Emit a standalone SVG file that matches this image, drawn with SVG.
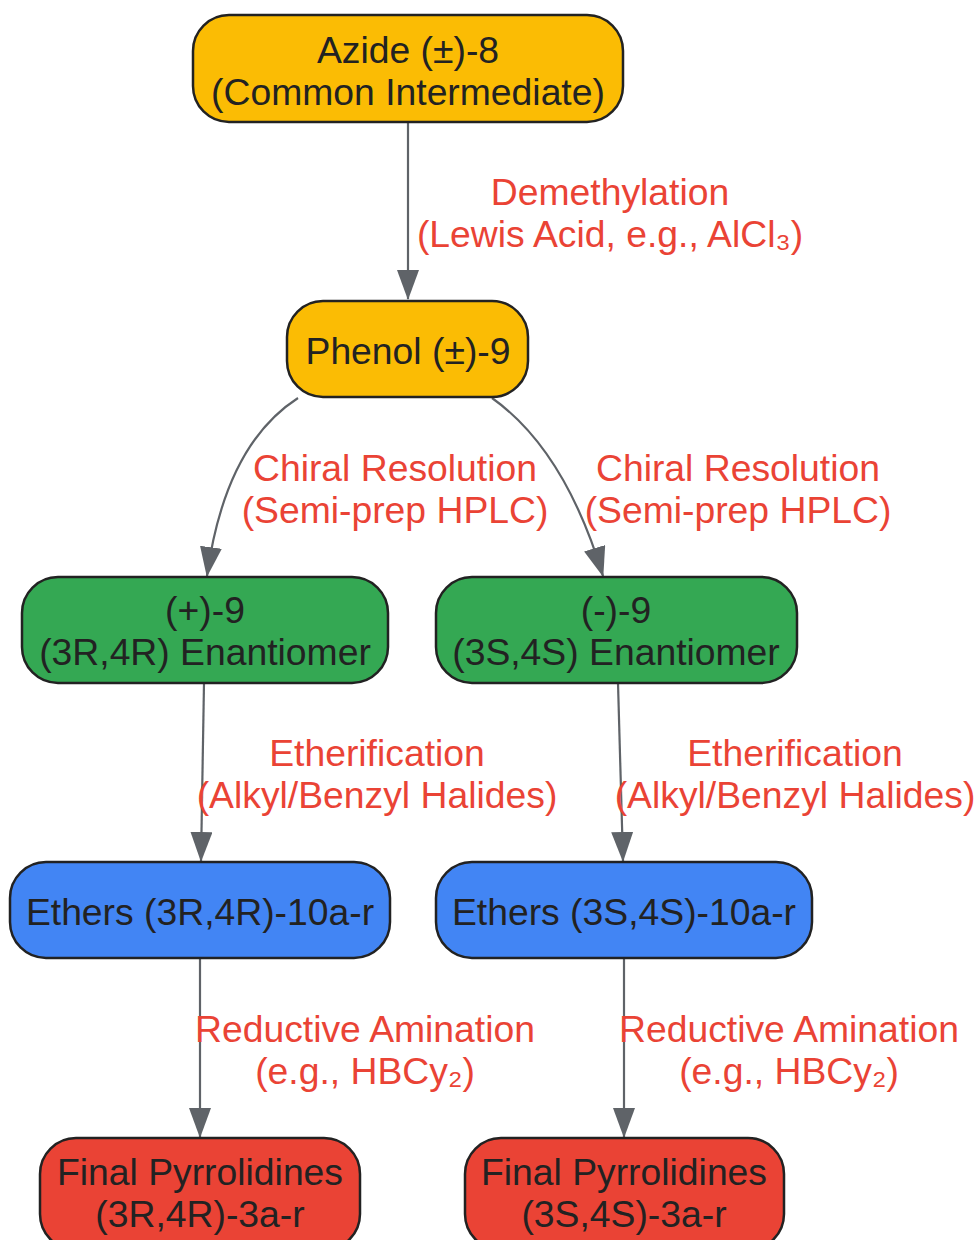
<svg xmlns="http://www.w3.org/2000/svg" width="978" height="1240" viewBox="0 0 978 1240">
<style>
.n{stroke:#222;stroke-width:2.5}
.y{fill:#FBBC04}.g{fill:#34A853}.b{fill:#4285F4}.r{fill:#EA4335}
.t{font-family:"Liberation Sans",Arial,sans-serif;font-size:37.3px;fill:#222;text-anchor:middle}
.l{font-family:"Liberation Sans",Arial,sans-serif;font-size:37.3px;fill:#EA4335;text-anchor:middle}
.e{fill:none;stroke:#5f6368;stroke-width:2.2;marker-end:url(#ah)}
</style>
<defs>
<marker id="ah" markerWidth="30" markerHeight="22" refX="29" refY="11" viewBox="0 0 30 22" orient="auto" markerUnits="userSpaceOnUse">
<path d="M0,0 L30,11 L0,22 Z" fill="#5f6368"/>
</marker>
</defs>
<g id="edges">
<path class="e" d="M408,122 L408,299"/>
<path class="e" d="M298,398 Q225,445 207,576"/>
<path class="e" d="M492,398 Q565,450 603,576"/>
<path class="e" d="M204,683 L201,861"/>
<path class="e" d="M618,683 L623,861"/>
<path class="e" d="M200,958 L200,1137"/>
<path class="e" d="M624,958 L624,1137"/>
</g>
<g id="edge-labels">
<text class="l" x="610" y="205">Demethylation</text>
<text class="l" x="610" y="247">(Lewis Acid, e.g., AlCl₃)</text>
<text class="l" x="395" y="481">Chiral Resolution</text>
<text class="l" x="395" y="523">(Semi-prep HPLC)</text>
<text class="l" x="738" y="481">Chiral Resolution</text>
<text class="l" x="738" y="523">(Semi-prep HPLC)</text>
<text class="l" x="377" y="766">Etherification</text>
<text class="l" x="377" y="808">(Alkyl/Benzyl Halides)</text>
<text class="l" x="795" y="766">Etherification</text>
<text class="l" x="795" y="808">(Alkyl/Benzyl Halides)</text>
<text class="l" x="365" y="1042">Reductive Amination</text>
<text class="l" x="365" y="1084">(e.g., HBCy₂)</text>
<text class="l" x="789" y="1042">Reductive Amination</text>
<text class="l" x="789" y="1084">(e.g., HBCy₂)</text>
</g>
<g id="azide">
<rect class="n y" x="193" y="15" width="430" height="107" rx="36"/>
<text class="t" x="408" y="63">Azide (±)-8</text>
<text class="t" x="408" y="105">(Common Intermediate)</text>
</g>
<g id="phenol">
<rect class="n y" x="287" y="301" width="241" height="96" rx="36"/>
<text class="t" x="408" y="364">Phenol (±)-9</text>
</g>
<g id="plus9">
<rect class="n g" x="22" y="577" width="366" height="106" rx="36"/>
<text class="t" x="205" y="623">(+)-9</text>
<text class="t" x="205" y="665">(3R,4R) Enantiomer</text>
</g>
<g id="minus9">
<rect class="n g" x="436" y="577" width="361" height="106" rx="36"/>
<text class="t" x="616" y="623">(-)-9</text>
<text class="t" x="616" y="665">(3S,4S) Enantiomer</text>
</g>
<g id="ethersR">
<rect class="n b" x="10" y="862" width="380" height="96" rx="36"/>
<text class="t" x="200" y="925">Ethers (3R,4R)-10a-r</text>
</g>
<g id="ethersS">
<rect class="n b" x="436" y="862" width="376" height="96" rx="36"/>
<text class="t" x="624" y="925">Ethers (3S,4S)-10a-r</text>
</g>
<g id="finalR">
<rect class="n r" x="40" y="1138" width="320" height="112" rx="36"/>
<text class="t" x="200" y="1185">Final Pyrrolidines</text>
<text class="t" x="200" y="1227">(3R,4R)-3a-r</text>
</g>
<g id="finalS">
<rect class="n r" x="465" y="1138" width="319" height="112" rx="36"/>
<text class="t" x="624" y="1185">Final Pyrrolidines</text>
<text class="t" x="624" y="1227">(3S,4S)-3a-r</text>
</g>
</svg>
